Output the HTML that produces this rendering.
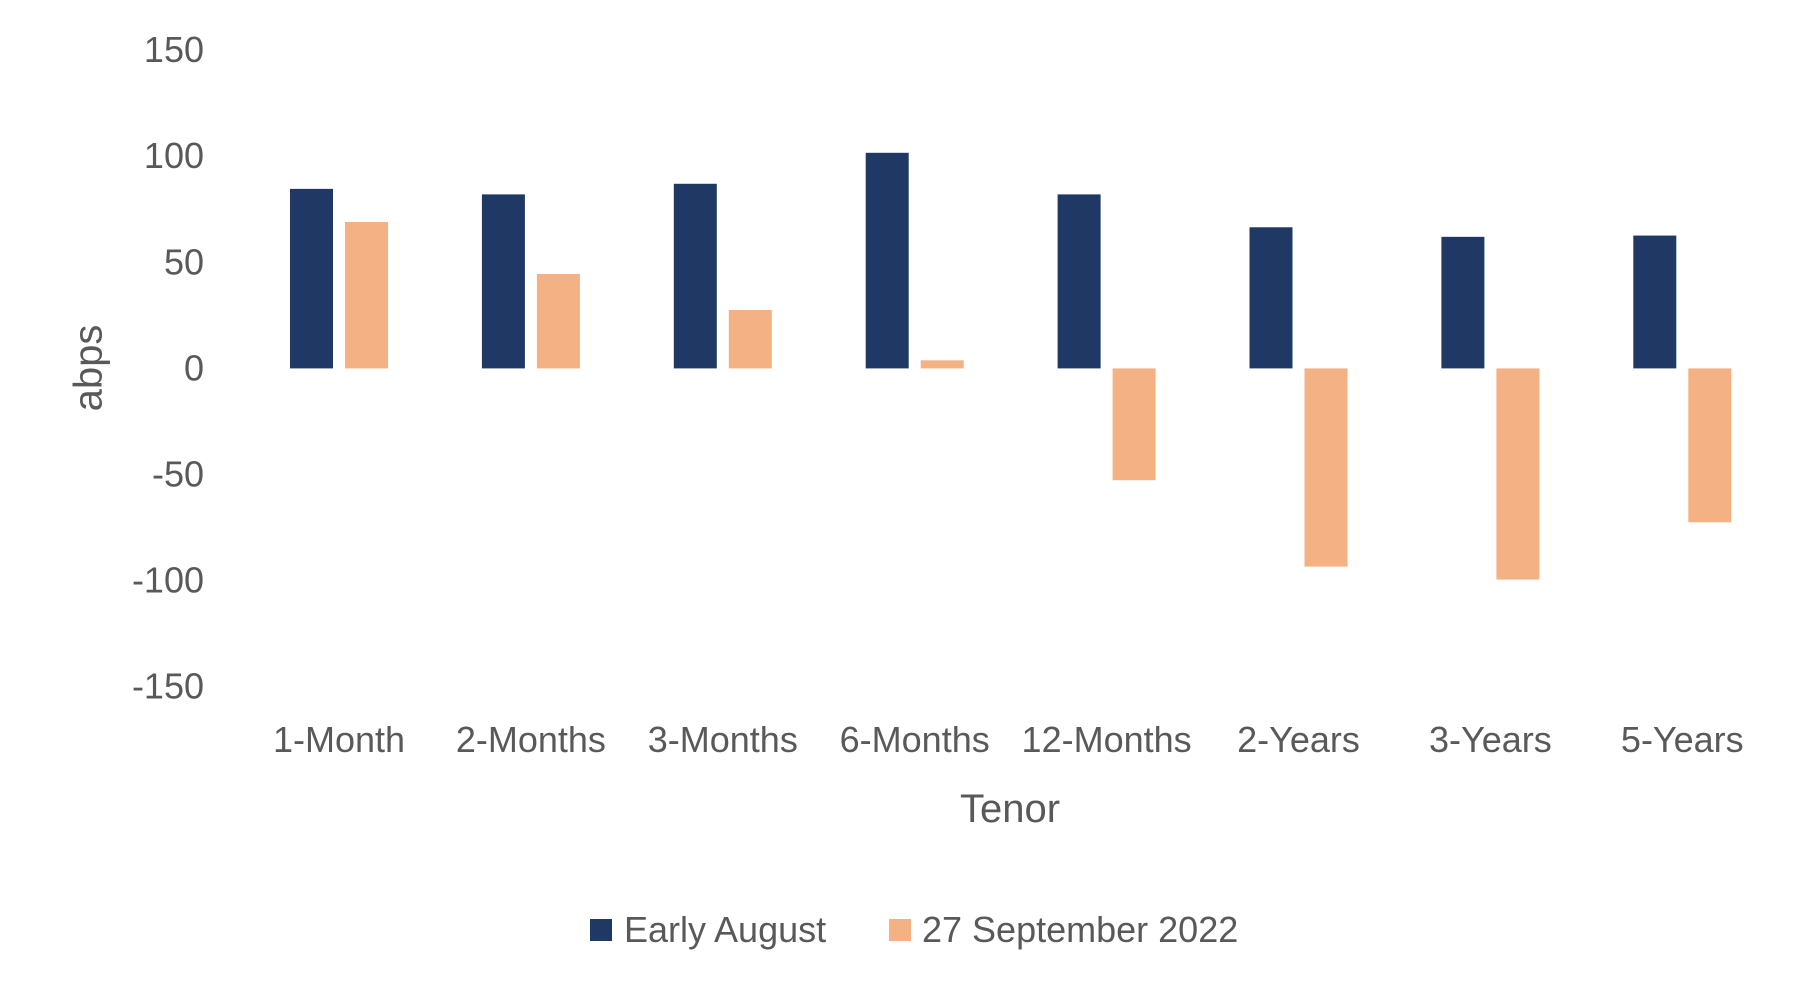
<!DOCTYPE html>
<html><head><meta charset="utf-8"><style>
html,body{margin:0;padding:0;background:#fff;}
svg text{font-family:"Liberation Sans",sans-serif;fill:#595959;}
</style></head><body>
<svg width="1807" height="986" viewBox="0 0 1807 986">
<g id="yaxis"></g>
<g id="bars"></g>
<g id="xaxis"></g>
<text x="91" y="368" font-size="40" text-anchor="middle" dominant-baseline="middle" transform="rotate(-90 91 368)">abps</text>
<text x="1010" y="822" font-size="40" text-anchor="middle">Tenor</text>
<g>
<rect x="590" y="919" width="22" height="22" fill="#1F3864"/>
<text x="624" y="942" font-size="36">Early August</text>
<rect x="889" y="919" width="22" height="22" fill="#F4B183"/>
<text x="922" y="942" font-size="36">27 September 2022</text>
</g>
</svg>
<script>
const categories = ["1-Month","2-Months","3-Months","6-Months","12-Months","2-Years","3-Years","5-Years"];
const earlyAugust = [84.6, 82, 87, 101.6, 82, 66.5, 62, 62.6];
const sept27 = [69, 44.5, 27.5, 3.8, -52.7, -93.4, -99.5, -72.5];
const yTicks = [150, 100, 50, 0, -50, -100, -150];

const NS = "http://www.w3.org/2000/svg";
function y(v){ return 368.4 - v * (106.1/50); }
function xc(i){ return 339 + i * 191.9; }
const yax = document.getElementById('yaxis');
yTicks.forEach(t=>{
  const el = document.createElementNS(NS,'text');
  el.setAttribute('x', 204); el.setAttribute('y', y(t)+12);
  el.setAttribute('font-size', 36); el.setAttribute('text-anchor','end');
  el.textContent = t;
  
  
  yax.appendChild(el);
});
const bars = document.getElementById('bars');
function bar(x0, v, color, name){
  const r = document.createElementNS(NS,'rect');
  const top = Math.min(y(v), y(0)), h = Math.abs(y(v)-y(0));
  r.setAttribute('x', x0); r.setAttribute('y', top);
  r.setAttribute('width', 43); r.setAttribute('height', h);
  r.setAttribute('fill', color);
  
  
  bars.appendChild(r);
}
const xax = document.getElementById('xaxis');
categories.forEach((c,i)=>{
  bar(xc(i)-49, earlyAugust[i], '#1F3864', 'bar-early-august');
  bar(xc(i)+6, sept27[i], '#F4B183', 'bar-27-september');
  const t = document.createElementNS(NS,'text');
  t.setAttribute('x', xc(i)); t.setAttribute('y', 752);
  t.setAttribute('font-size', 36); t.setAttribute('text-anchor','middle');
  t.textContent = c;
  
  
  xax.appendChild(t);
});
</script>
</body></html>
